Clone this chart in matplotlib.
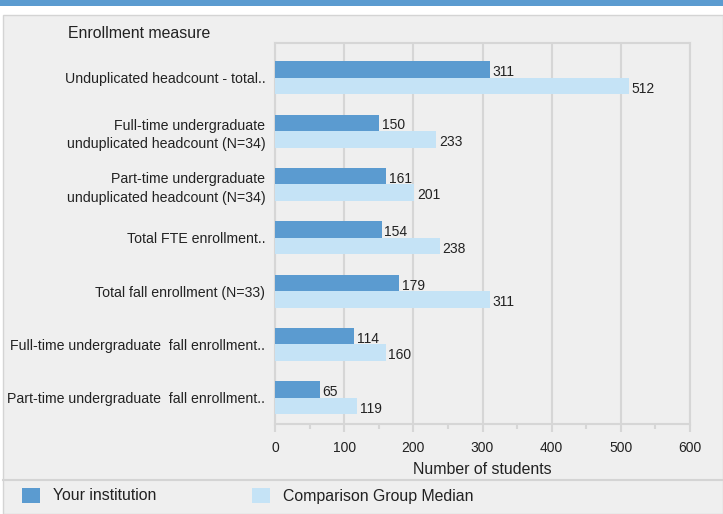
import matplotlib.pyplot as plt
import matplotlib.patches as mpatches
from matplotlib.ticker import MultipleLocator
import numpy as np

plt.rcParams['font.family'] = ['Liberation Sans', 'DejaVu Sans']

measures = ['Unduplicated headcount - total..',
            'Full-time undergraduate\nunduplicated headcount (N=34)',
            'Part-time undergraduate\nunduplicated headcount (N=34)',
            'Total FTE enrollment..',
            'Total fall enrollment (N=33)',
            'Full-time undergraduate  fall enrollment..',
            'Part-time undergraduate  fall enrollment..']
your_inst = [311, 150, 161, 154, 179, 114, 65]
comp_median = [512, 233, 201, 238, 311, 160, 119]

dark = '#5b9bd0'
light = '#c5e3f6'
bg = '#efefef'
grid_col = '#d6d6d6'

W, H = 723, 514
fig = plt.figure(figsize=(W / 100, H / 100), dpi=100)
fig.patch.set_facecolor('white')

# top band and panel behind the axes
fig.add_artist(mpatches.Rectangle((0, 1 - 6 / H), 1, 6 / H, transform=fig.transFigure,
                                  color=dark, lw=0, zorder=-10))
fig.add_artist(mpatches.Rectangle((3 / W, 0), 1 - 3.5 / W, 1 - 15 / H, transform=fig.transFigure,
                                  facecolor=bg, edgecolor='#d4d4d4', lw=1, zorder=-10))
fig.add_artist(plt.Line2D([3 / W, 1], [1 - 480 / H, 1 - 480 / H], transform=fig.transFigure,
                          color='#d4d4d4', lw=1.5, zorder=-9))

ax = fig.add_axes([275 / W, 1 - 424 / H, 415 / W, 381 / H])
ax.set_facecolor(bg)

y = np.arange(len(measures))
h = 0.31
ax.barh(y - h / 2, your_inst, height=h, color=dark, zorder=3)
ax.barh(y + h / 2, comp_median, height=h, color=light, zorder=3)

for yi, v in zip(y, your_inst):
    ax.text(v + 4, yi - h / 2 + 0.05, str(v), va='center', ha='left', fontsize=10, color='#222222', zorder=4)
for yi, v in zip(y, comp_median):
    ax.text(v + 4, yi + h / 2 + 0.05, str(v), va='center', ha='left', fontsize=10, color='#222222', zorder=4)

ax.set_xlim(0, 600)
ax.set_ylim(len(measures) - 1 + 0.49, -0.65)
ax.set_yticks(y)
ax.set_yticklabels(measures, fontsize=10.2, color='#222222', linespacing=1.45)
ax.tick_params(axis='y', length=0, pad=7)
ax.xaxis.set_major_locator(MultipleLocator(100))
ax.xaxis.set_minor_locator(MultipleLocator(50))
ax.tick_params(axis='x', which='major', length=6, width=1.5, color=grid_col,
               labelsize=10, labelcolor='#222222', pad=6)
ax.tick_params(axis='x', which='minor', length=3.5, width=1.5, color=grid_col)
ax.grid(axis='x', which='major', color=grid_col, lw=1.5, zorder=0)
for s in ax.spines.values():
    s.set_color(grid_col)
    s.set_linewidth(1.5)
ax.set_xlabel('Number of students', fontsize=11.4, color='#222222', labelpad=5)

fig.text(68 / W, 1 - 33 / H, 'Enrollment measure', fontsize=11.4, va='center', ha='left', color='#222222')

# legend
fig.add_artist(mpatches.Rectangle((22 / W, 1 - 503 / H), 18 / W, 15 / H, transform=fig.transFigure,
                                  color=dark, lw=0))
fig.text(53 / W, 1 - 496 / H, 'Your institution', fontsize=11.4, va='center', color='#222222')
fig.add_artist(mpatches.Rectangle((252 / W, 1 - 503 / H), 18 / W, 15 / H, transform=fig.transFigure,
                                  color=light, lw=0))
fig.text(283 / W, 1 - 496 / H, 'Comparison Group Median', fontsize=11.4, va='center', color='#222222')

fig.savefig('out.png', dpi=100, facecolor=fig.get_facecolor())
